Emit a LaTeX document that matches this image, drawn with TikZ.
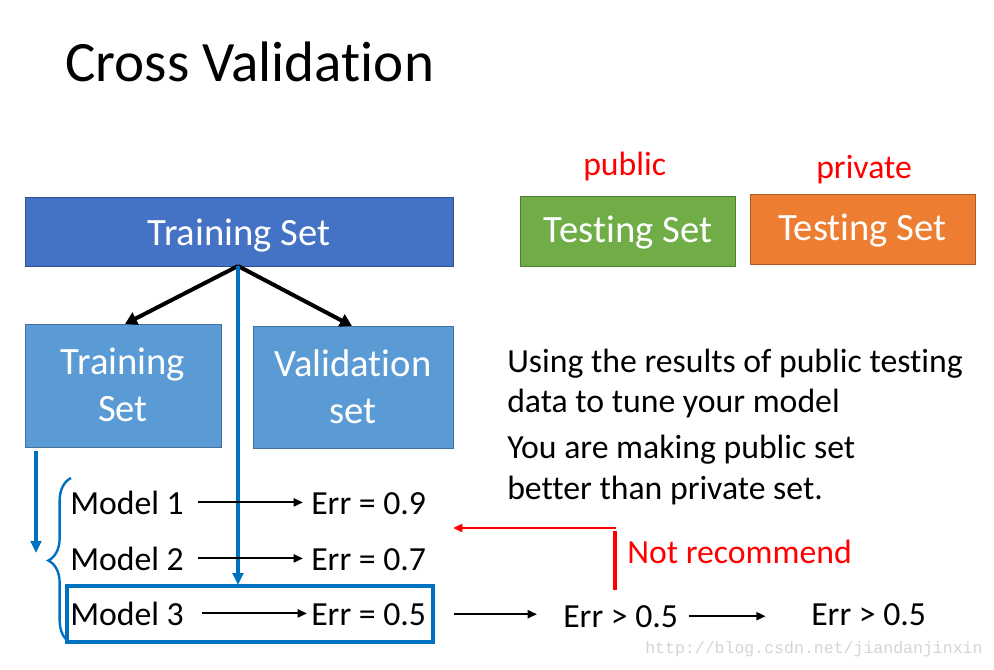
\documentclass[tikz,border=0pt]{standalone}
\usepackage{fontspec}
\setmainfont{Carlito}[Ligatures={NoCommon,NoRare,NoContextual}]
\newfontfamily\wmfont{Liberation Mono}
\newcommand{\tI}{t\kern0pt i}
\usetikzlibrary{arrows.meta,decorations.pathreplacing}
\definecolor{darkblue}{HTML}{4472C4}
\definecolor{darkblueb}{HTML}{2F528F}
\definecolor{lightblue}{HTML}{5B9BD5}
\definecolor{lightblueb}{HTML}{41719C}
\definecolor{greenbox}{HTML}{70AD47}
\definecolor{greenboxb}{HTML}{507E32}
\definecolor{orangebox}{HTML}{ED7D31}
\definecolor{orangeboxb}{HTML}{AE5A21}
\definecolor{selblue}{HTML}{0070C0}
\definecolor{wmgray}{HTML}{D4D4D4}
\tikzset{
  px/.style={x=0.75pt,y=-0.75pt},
  boxtext/.style={font=\fontsize{29}{35}\selectfont, text=white, align=center},
  fillbox/.style={draw, line width=0.75pt, inner sep=0pt, boxtext},
  txt/.style={font=\fontsize{25.3}{30}\selectfont, inner sep=0pt, anchor=base west},
  thinarr/.style={-{Triangle[length=7pt,width=6pt]}, line width=1.6pt, black},
  splitarr/.style={-{Triangle[length=9pt,width=10pt]}, line width=3pt, black},
  bluearr/.style={-{Triangle[length=9pt,width=8pt]}, line width=2.4pt, selblue},
}
\begin{document}
\begin{tikzpicture}[px]
\useasboundingbox (0,0) rectangle (994,669);
% title
\node[anchor=base west, inner sep=0pt, font=\fontsize{42.8}{50}\selectfont] (title) at (65,81) {Cross Valida\tI on};
% top boxes
\node[fillbox, fill=darkblue, draw=darkblueb, minimum width=321pt, minimum height=51.75pt] (ts) at (239,231.5) {};
\node[boxtext, anchor=base, inner sep=0pt] (tst) at (239,245) {Training Set};
\node[fillbox, fill=greenbox, draw=greenboxb, minimum width=161.25pt, minimum height=52.5pt] (pub) at (627.5,231) {};
\node[boxtext, anchor=base, inner sep=0pt] (pubt) at (628,242) {Tes\tI ng Set};
\node[fillbox, fill=orangebox, draw=orangeboxb, minimum width=168.75pt, minimum height=52.5pt] (prv) at (862.5,229) {};
\node[boxtext, anchor=base, inner sep=0pt] (prvt) at (862.5,240) {Tes\tI ng Set};
\node[txt, text=red] (publbl) at (583,175) {public};
\node[txt, text=red] (prvlbl) at (816,178) {private};
% sub boxes
\node[fillbox, fill=lightblue, draw=lightblueb, minimum width=147pt, minimum height=92.25pt] (sub) at (123,385.5) {};
\node[boxtext, anchor=base, inner sep=0pt] (subt) at (123,421) {Training\\Set};
\node[fillbox, fill=lightblue, draw=lightblueb, minimum width=150pt, minimum height=91.5pt] (val) at (353,387) {};
\node[boxtext, anchor=base, inner sep=0pt] (valt) at (353,423) {Valida\tI on\\set};
% split arrows
\coordinate (split) at (238,266);
\coordinate (subtop) at (125,324);
\coordinate (valtop) at (352,326);
\draw[splitarr] (split) -- (subtop);
\draw[splitarr] (split) -- (valtop);
% right text
\node[txt] (r1) at (507,372) {Using the results of public tes\tI ng};
\node[txt] (r2) at (507,412) {data to tune your model};
\node[txt] (r3) at (507,458) {You are making public set};
\node[txt] (r4) at (507,499) {better than private set.};
% selection rectangle
\node[draw=selblue, line width=2.4pt, minimum width=274.5pt, minimum height=42pt, inner sep=0pt] (sel) at (250,614) {};
% blue long arrow
\coordinate (selin) at (238,585);
\draw[bluearr] (split) -- (selin);
% left blue arrow
\coordinate (la1) at (36,451);
\coordinate (la2) at (36,553);
\draw[bluearr] (la1) -- (la2);
% brace
\coordinate (bt) at (71,478);
\coordinate (bb) at (71,643);
\draw[selblue, line width=1.8pt, decorate, decoration={brace, amplitude=17pt, aspect=0.5}] (bb) -- (bt);
% models
\node[txt] (m1) at (70,514) {Model 1};
\node[txt] (e1) at (311,514) {Err = 0.9};
\node[txt] (m2) at (70,570) {Model 2};
\node[txt] (e2) at (311,570) {Err = 0.7};
\node[txt] (m3) at (70,625) {Model 3};
\node[txt] (e3) at (311,625) {Err = 0.5};
\draw[thinarr, shorten <=10.5pt, shorten >=6pt] (m1.east) -- (m1.east -| e1.west);
\draw[thinarr, shorten <=10.5pt, shorten >=6pt] (m2.east) -- (m2.east -| e2.west);
\draw[thinarr, shorten <=13.5pt, shorten >=3pt] (m3.east) -- (m3.east -| e3.west);
% further
\node[txt] (g1) at (563,627) {Err > 0.5};
\node[txt] (g2) at (811,625) {Err > 0.5};
\draw[thinarr, shorten <=21pt, shorten >=19.5pt] (e3.east) -- (e3.east -| g1.west);
\draw[thinarr, shorten <=8pt, shorten >=34pt] (g1.east) -- (g1.east -| g2.west);
% red
\coordinate (rb) at (615,590);
\coordinate (rt) at (615,531);
\coordinate (rc) at (616,528);
\coordinate (re) at (453,528);
\draw[red, line width=3pt] (rb) -- (rt);
\draw[red, line width=2.2pt, -{Triangle[length=7pt,width=6pt]}] (rc) -- (re);
\node[txt, text=red] (nr) at (627,563) {Not recommend};
% watermark
\node[anchor=base west, inner sep=0pt, text=wmgray, font=\wmfont\fontsize{12.4}{14}\selectfont] (wm) at (645,653) {http://blog.csdn.net/jiandanjinxin};
\end{tikzpicture}
\end{document}
